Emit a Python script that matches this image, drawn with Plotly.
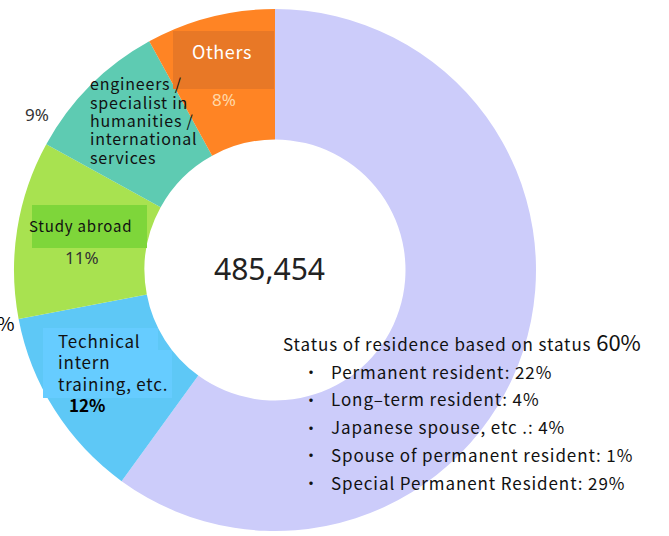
import plotly.graph_objects as go

# Foreign residents by status of residence
categories = [
    "Status of residence based on status",
    "Technical intern training, etc.",
    "Study abroad",
    "engineers / specialist in humanities / international services",
    "Others",
]
shares = [60, 12, 11, 9, 8]
slice_colors = ["#CCCCFA", "#5EC8F6", "#A8E250", "#5ECBB2", "#FF8424"]
total_label = "485,454"

# Breakdown of the status-based group
sub_labels = [
    "Permanent resident",
    "Long\u2013term resident",
    "Japanese spouse, etc .",
    "Spouse of permanent resident",
    "Special Permanent Resident",
]
sub_shares = [22, 4, 4, 1, 29]

# Wrapped slice captions
engineer_lines = ["engineers /", "specialist in", "humanities /", "international", "services"]
intern_lines = ["Technical", "intern", "training, etc."]

W, H = 669, 536
CX, CY, R = 275, 270, 261

GOTHIC = "Noto Sans CJK JP"
ROUND = "Noto Sans"


def px(x):
    return x / W


def py(y):
    return 1 - y / H


def spaced(text, sp):
    return f"<span style='letter-spacing:{sp}px'>{text}</span>"


fig = go.Figure(
    go.Pie(
        labels=categories,
        values=shares,
        hole=0.5,
        sort=False,
        direction="clockwise",
        rotation=0,
        marker=dict(colors=slice_colors, line=dict(width=0)),
        textinfo="none",
        hoverinfo="label+percent",
        domain=dict(x=[px(CX - R), px(CX + R)], y=[py(CY + R), py(CY - R)]),
        showlegend=False,
    )
)

# Label backgrounds
shapes = [
    dict(type="rect", x0=px(173), x1=px(274), y0=py(89), y1=py(31),
         fillcolor="#E87826", line=dict(width=0)),
    dict(type="rect", x0=px(32), x1=px(147), y0=py(248), y1=py(205),
         fillcolor="#7ED63A", line=dict(width=0)),
    dict(type="path",
         path=f"M {px(43)},{py(328)} L {px(158)},{py(328)} L {px(158)},{py(350)} "
              f"L {px(172)},{py(350)} L {px(172)},{py(398)} L {px(43)},{py(398)} Z",
         fillcolor="#66CCFF", line=dict(width=0)),
]
for s in shapes:
    s.update(xref="paper", yref="paper", layer="above")


def ann(text, x, y, size, color="#111111", family=GOTHIC, xanchor="left", yanchor="middle"):
    return dict(text=text, x=px(x), y=py(y), xref="paper", yref="paper",
                xanchor=xanchor, yanchor=yanchor, align="left", showarrow=False,
                font=dict(family=family, size=size, color=color))


annotations = [
    ann(spaced("Others", 0.6), 222, 51, 18, color="#FFFFFF", xanchor="center"),
    ann(f"{shares[4]}%", 224, 100, 17, color="#FFD8A8", family=ROUND, xanchor="center"),
    ann(f"{shares[3]}%", 37, 114, 17, color="#333333", family=ROUND, xanchor="center"),
    ann(spaced("Study abroad", 0.8), 27, 226, 15),
    ann(f"{shares[2]}%", 82, 257, 17, color="#333333", family=ROUND, xanchor="center"),
    ann(f"<b>{shares[1]}%</b>", 67, 404, 17, color="#000000"),
    ann("%", -5, 322, 19, color="#000000"),
    ann(total_label, 269, 268, 30, color="#222222", family=ROUND, xanchor="center"),
    ann(spaced("Status of residence based on status ", 0.9)
        + f"<span style='font-size:22px'>{shares[0]}%</span>",
        281, 341, 17),
]
for i, line in enumerate(engineer_lines):
    annotations.append(ann(spaced(line, 0.8), 88, 83 + i * 18.5, 16))
for i, line in enumerate(intern_lines):
    annotations.append(ann(spaced(line, 0.8), 56, 340 + i * 21.5, 17))
for i, (lab, v) in enumerate(zip(sub_labels, sub_shares)):
    y = 371 + i * 27.8
    annotations.append(ann("\u30fb", 311, y, 16, xanchor="center"))
    annotations.append(ann(spaced(f"{lab}: {v}%", 0.9), 329, y, 17))

fig.update_layout(
    width=W, height=H,
    margin=dict(l=0, r=0, t=0, b=0),
    paper_bgcolor="#FFFFFF",
    plot_bgcolor="#FFFFFF",
    shapes=shapes,
    annotations=annotations,
)

fig.write_html("out.html")
